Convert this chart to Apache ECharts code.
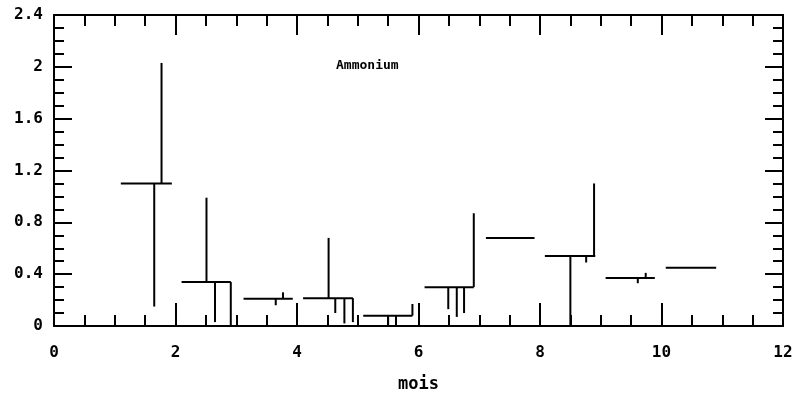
<!DOCTYPE html>
<html>
<head>
<meta charset="utf-8">
<script src="https://cdn.jsdelivr.net/npm/echarts@6/dist/echarts.min.js"></script>
<style>html,body{margin:0;padding:0;background:#fff;}#c{width:795px;height:396px;}</style>
</head>
<body>
<div id="c"></div>
<script>
// Monthly means: horizontal segment from monthStart to monthEnd at monthMean
const monthStart = [1.10, 2.10, 3.12, 4.10, 5.09, 6.10, 7.11, 8.08, 9.08, 10.07];
const monthEnd   = [1.94, 2.91, 3.93, 4.92, 5.90, 6.91, 7.91, 8.91, 9.89, 10.90];
const monthMean  = [1.10, 0.34, 0.21, 0.215, 0.08, 0.30, 0.68, 0.54, 0.37, 0.45];
// Individual samples: vertical segment from the month mean to the sample value
const sampleMonth = [0, 0, 1, 1, 1, 2, 2, 3, 3, 3, 3, 4, 4, 4, 5, 5, 5, 5, 7, 7, 7, 8, 8];
const sampleX     = [1.65, 1.77, 2.51, 2.65, 2.91, 3.65, 3.77, 4.52, 4.63, 4.78, 4.92, 5.50, 5.63, 5.90, 6.49, 6.63, 6.75, 6.91, 8.50, 8.76, 8.89, 9.61, 9.74];
const sampleY     = [0.15, 2.03, 0.99, 0.03, 0.00, 0.16, 0.26, 0.68, 0.10, 0.02, 0.03, 0.00, 0.00, 0.17, 0.13, 0.07, 0.10, 0.87, 0.00, 0.49, 1.10, 0.33, 0.41];
const xTicks = [0, 2, 4, 6, 8, 10, 12];
const yTicks = [0, 0.4, 0.8, 1.2, 1.6, 2, 2.4];
const titleText = 'Ammonium';
const xName = 'mois';

const segs = [];
for (let i = 0; i < monthMean.length; i++) {
  segs.push([monthStart[i], monthMean[i], monthEnd[i], monthMean[i]]);
}
for (let j = 0; j < sampleX.length; j++) {
  const m = monthMean[sampleMonth[j]];
  segs.push([sampleX[j], m, sampleX[j], sampleY[j]]);
}

const font = 'DejaVu Sans Mono';
const lbl = {color: '#000', fontFamily: font, fontWeight: 'bold', fontSize: 16};
function xAx(pos, show) {
  return {
    type: 'value', position: pos, min: xTicks[0], max: xTicks[xTicks.length - 1], interval: 2,
    axisLine: {show: true, onZero: false, lineStyle: {color: '#000', width: 2}},
    axisTick: {show: true, inside: true, length: pos === 'bottom' ? 23 : 20, lineStyle: {color: '#000', width: 2}},
    minorTick: {show: true, splitNumber: 4, length: 11, lineStyle: {color: '#000', width: 2}},
    splitLine: {show: false},
    axisLabel: Object.assign({show: show, margin: 19}, lbl),
    name: show ? xName : '', nameLocation: 'middle', nameGap: 50,
    nameTextStyle: {color: '#000', fontFamily: font, fontWeight: 'bold', fontSize: 17}
  };
}
function yAx(pos, show) {
  return {
    type: 'value', position: pos, min: yTicks[0], max: yTicks[yTicks.length - 1], interval: 0.4,
    axisLine: {show: true, onZero: false, lineStyle: {color: '#000', width: 2}},
    axisTick: {show: true, inside: true, length: 18, lineStyle: {color: '#000', width: 2}},
    minorTick: {show: true, splitNumber: 4, length: 10, lineStyle: {color: '#000', width: 2}},
    splitLine: {show: false},
    axisLabel: Object.assign({show: show, margin: 11}, lbl)
  };
}

const chart = echarts.init(document.getElementById('c'), null, {renderer: 'canvas'});
chart.setOption({
  backgroundColor: '#fff',
  animation: false,
  title: {text: titleText, left: 336, top: 59, textStyle: {color: '#000', fontFamily: font, fontWeight: 'bold', fontSize: 13}, padding: 0},
  grid: {left: 54, right: 12, top: 15, bottom: 70, containLabel: false, outerBoundsMode: 'none'},
  xAxis: [xAx('bottom', true), xAx('top', false)],
  yAxis: [yAx('left', true), yAx('right', false)],
  series: [{
    type: 'custom',
    data: segs,
    encode: {x: [0, 2], y: [1, 3]},
    clip: false,
    renderItem: function (params, api) {
      const p1 = api.coord([api.value(0), api.value(1)]);
      const p2 = api.coord([api.value(2), api.value(3)]);
      return {type: 'line', shape: {x1: p1[0], y1: p1[1], x2: p2[0], y2: p2[1]}, style: {stroke: '#000', lineWidth: 2}};
    }
  }]
});
</script>
</body>
</html>
